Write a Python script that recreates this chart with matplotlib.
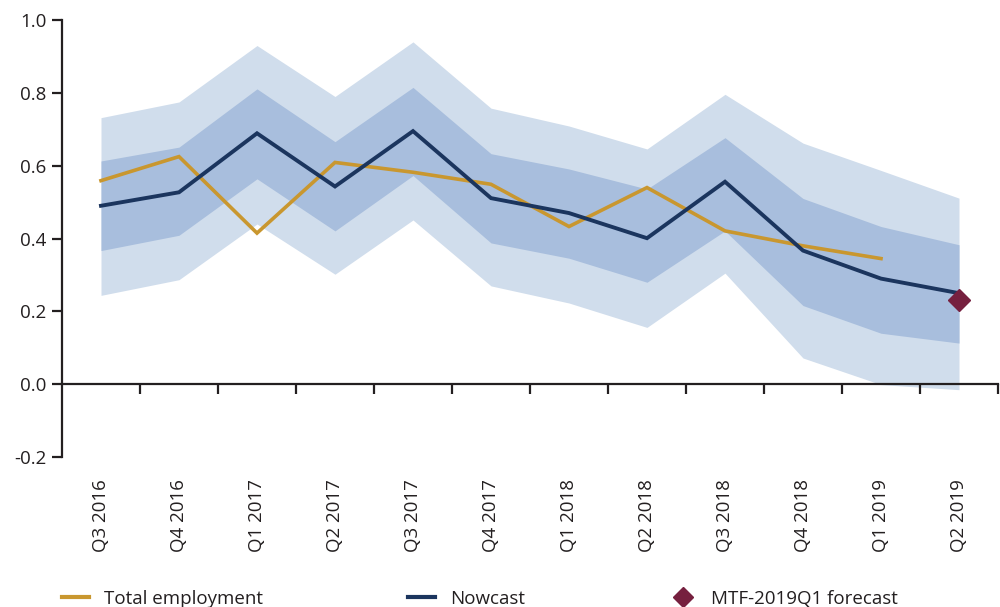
import numpy as np
import matplotlib.pyplot as plt
from matplotlib.lines import Line2D

plt.rcParams['font.family'] = ['Open Sans', 'DejaVu Sans']

quarters = ["Q3 2016", "Q4 2016", "Q1 2017", "Q2 2017", "Q3 2017", "Q4 2017",
            "Q1 2018", "Q2 2018", "Q3 2018", "Q4 2018", "Q1 2019", "Q2 2019"]

nowcast = [0.490, 0.527, 0.689, 0.543, 0.695, 0.511, 0.470, 0.401, 0.556, 0.367, 0.290, 0.250]
total_employment = [0.559, 0.625, 0.415, 0.609, 0.582, 0.549, 0.433, 0.540, 0.421, 0.380, 0.345]

# fan chart bands around nowcast
outer_upper = [0.732, 0.775, 0.930, 0.790, 0.940, 0.758, 0.709, 0.646, 0.796, 0.662, 0.587, 0.511]
inner_upper = [0.613, 0.651, 0.811, 0.666, 0.815, 0.633, 0.591, 0.536, 0.677, 0.510, 0.433, 0.383]
inner_lower = [0.367, 0.409, 0.564, 0.421, 0.573, 0.388, 0.346, 0.280, 0.421, 0.216, 0.140, 0.113]
outer_lower = [0.244, 0.287, 0.440, 0.302, 0.451, 0.270, 0.223, 0.156, 0.305, 0.072, -0.001, -0.015]

forecast_quarter = "Q2 2019"
forecast_value = 0.232

y_ticks = [-0.2, 0.0, 0.2, 0.4, 0.6, 0.8, 1.0]

# colours
c_outer = "#d0ddec"
c_inner = "#a8bedd"
c_nowcast = "#1b355e"
c_total = "#c9972f"
c_mtf = "#76203f"
c_axis = "#231f20"

fs = 13.5
x = np.arange(len(quarters))

fig = plt.figure(figsize=(10, 6.07), dpi=100)
ax = fig.add_axes([0.062, 0.247, 0.936, 0.72])

ax.fill_between(x, outer_lower, outer_upper, color=c_outer, lw=0, zorder=1)
ax.fill_between(x, inner_lower, inner_upper, color=c_inner, lw=0, zorder=1.1)
ax.plot(x[:len(total_employment)], total_employment, color=c_total, lw=2.6,
        solid_joinstyle='miter', zorder=2)
ax.plot(x, nowcast, color=c_nowcast, lw=2.8, solid_joinstyle='miter', zorder=2.2)
ax.plot([quarters.index(forecast_quarter)], [forecast_value], marker='D', ms=11,
        color=c_mtf, lw=0, zorder=3)

ax.set_xlim(-0.5, len(quarters) - 0.5)
ax.set_ylim(-0.2, 1.0)

ax.spines['top'].set_visible(False)
ax.spines['right'].set_visible(False)
ax.spines['bottom'].set_position(('data', 0))
for s in ['left', 'bottom']:
    ax.spines[s].set_linewidth(1.6)
    ax.spines[s].set_color(c_axis)
    ax.spines[s].set_zorder(4)

ax.set_yticks(y_ticks)
ax.set_yticklabels([f"{v:.1f}" for v in y_ticks])
ax.tick_params(axis='y', length=7, width=1.6, color=c_axis, labelcolor=c_axis,
               labelsize=fs, pad=4)

# boundary ticks on the zero line
ax.set_xticks(x + 0.5)
ax.set_xticklabels([])
ax.tick_params(axis='x', direction='out', length=7, width=1.6, color=c_axis)

# category labels below the plot
sec = ax.secondary_xaxis(0)
sec.set_xticks(x)
sec.set_xticklabels(quarters, rotation=90)
sec.tick_params(length=0, pad=16, labelsize=fs, labelcolor=c_axis)
sec.spines['bottom'].set_visible(False)

handles = [
    Line2D([], [], color=c_total, lw=3),
    Line2D([], [], color=c_nowcast, lw=3),
    Line2D([], [], color=c_mtf, marker='D', ms=10, lw=0),
]
labels = ["Total employment", "Nowcast", "MTF-2019Q1 forecast"]
fig.legend(handles, labels, loc='center left', bbox_to_anchor=(0.062, 0.014),
           ncol=3, frameon=False, fontsize=fs, handlelength=1.45,
           handletextpad=0.8, columnspacing=7.7, borderpad=0, borderaxespad=0,
           labelcolor=c_axis)

fig.savefig("out.png", dpi=100)
